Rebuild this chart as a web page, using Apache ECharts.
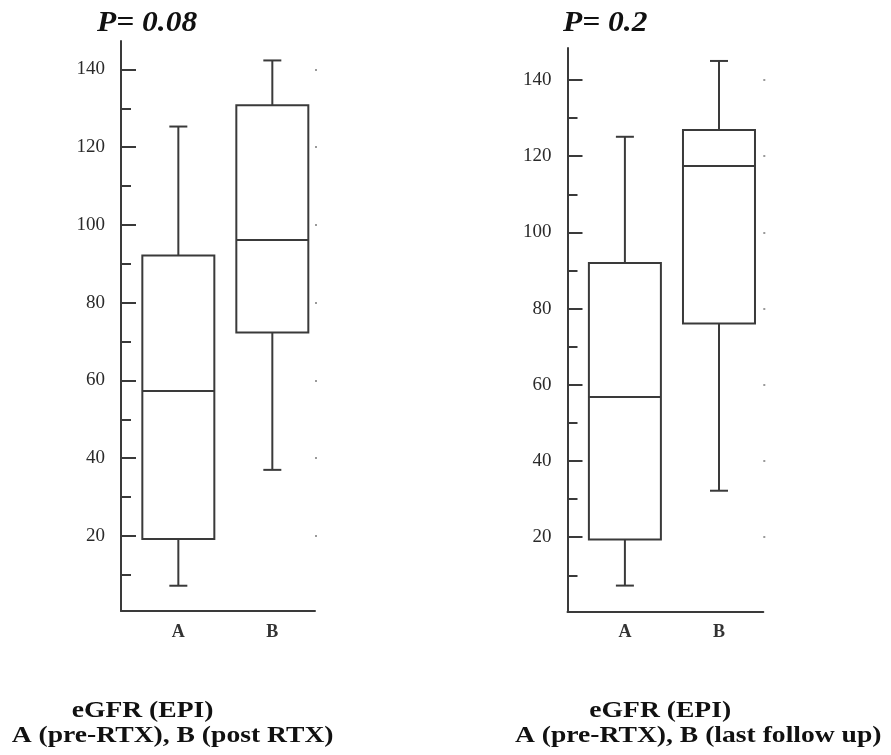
<!DOCTYPE html>
<html><head><meta charset="utf-8">
<script src="https://cdn.jsdelivr.net/npm/echarts@6/dist/echarts.min.js"></script>
<style>html,body{margin:0;padding:0;background:#fff}#c{width:891px;height:755px}</style>
</head><body><div id="c"></div>
<script>
// ---- data ----
const categories = ['A', 'B'];
// each box: [min, Q1, median, Q3, max]
const postRtxA = [7.2, 19.2, 57.3, 92.1, 125.3];
const postRtxB = [37.0, 72.3, 96.1, 130.8, 142.3];
const lastFollowA = [7.3, 19.4, 56.8, 92.0, 125.1];
const lastFollowB = [32.2, 76.1, 117.4, 126.9, 145.0];
const majorTicks = [20, 40, 60, 80, 100, 120, 140];
const minorTicks = [10, 30, 50, 70, 90, 110, 130];
const pTitles = ['P= 0.08', 'P= 0.2'];
const captionLine1 = ['eGFR (EPI)', 'eGFR (EPI)'];
const captionLine2 = ['A (pre-RTX), B (post RTX)', 'A (pre-RTX), B (last follow up)'];

// ---- styling ----
const INK = '#3a3a3a';
const SERIF = '"Liberation Serif", "Times New Roman", serif';

function renderBox(params, api) {
  const x = api.value(0);
  const p = [1, 2, 3, 4, 5].map(i => api.coord([x, api.value(i)]));
  const cx = p[0][0];
  const hw = 36, cw = 9;
  const yMin = p[0][1], yQ1 = p[1][1], yMed = p[2][1], yQ3 = p[3][1], yMax = p[4][1];
  const st = { stroke: INK, lineWidth: 2, fill: null };
  return {
    type: 'group',
    children: [
      { type: 'rect', shape: { x: cx - hw, y: yQ3, width: 2 * hw, height: yQ1 - yQ3 }, style: { stroke: INK, lineWidth: 2, fill: '#fff' } },
      { type: 'line', shape: { x1: cx - hw, y1: yMed, x2: cx + hw, y2: yMed }, style: st },
      { type: 'line', shape: { x1: cx, y1: yQ3, x2: cx, y2: yMax }, style: st },
      { type: 'line', shape: { x1: cx - cw, y1: yMax, x2: cx + cw, y2: yMax }, style: st },
      { type: 'line', shape: { x1: cx, y1: yQ1, x2: cx, y2: yMin }, style: st },
      { type: 'line', shape: { x1: cx - cw, y1: yMin, x2: cx + cw, y2: yMin }, style: st }
    ]
  };
}

const panels = [
  { grid: { left: 121, top: 41, width: 194, height: 570 }, xMin: 0.39, xMax: 2.454, yMin: 0.7, yMax: 147.3, boxes: [postRtxA, postRtxB] },
  { grid: { left: 567.5, top: 48, width: 195.8, height: 563.5 }, xMin: 0.39, xMax: 2.471, yMin: 0.5, yMax: 148.4, boxes: [lastFollowA, lastFollowB] }
];

const option = { animation: false, backgroundColor: '#fff', grid: [], xAxis: [], yAxis: [], series: [], graphic: [] };

panels.forEach((pn, gi) => {
  option.grid.push(Object.assign({ containLabel: false }, pn.grid));
  option.xAxis.push({
    gridIndex: gi, type: 'value', min: pn.xMin, max: pn.xMax,
    axisLine: { show: true, onZero: false, lineStyle: { color: INK, width: 2 } },
    axisTick: { show: false }, splitLine: { show: false },
    axisLabel: {
      customValues: [1, 2],
      formatter: v => categories[Math.round(v) - 1] || '',
      margin: 12, fontFamily: SERIF, fontSize: 18, fontWeight: 'bold', color: '#333'
    }
  });
  const yi = option.yAxis.length;
  option.yAxis.push({
    gridIndex: gi, type: 'value', min: pn.yMin, max: pn.yMax, position: 'left',
    axisLine: { show: true, onZero: false, lineStyle: { color: INK, width: 2 } },
    axisTick: { show: true, inside: true, length: 15, customValues: majorTicks, lineStyle: { color: INK, width: 2 } },
    axisLabel: { customValues: majorTicks, margin: 16, fontFamily: SERIF, fontSize: 19, color: '#2a2a2a' },
    splitLine: { show: false }
  });
  option.yAxis.push({
    gridIndex: gi, type: 'value', min: pn.yMin, max: pn.yMax, position: 'left', offset: 0,
    axisLine: { show: false, onZero: false },
    axisTick: { show: true, inside: true, length: 10, customValues: minorTicks, lineStyle: { color: INK, width: 2 } },
    axisLabel: { show: false }, splitLine: { show: false }
  });
  option.yAxis.push({
    gridIndex: gi, type: 'value', min: pn.yMin, max: pn.yMax, position: 'right', offset: 0,
    axisLine: { show: false, onZero: false },
    axisTick: { show: true, inside: false, length: 2, customValues: majorTicks, lineStyle: { color: '#9a9a9a', width: 2 } },
    axisLabel: { show: false }, splitLine: { show: false }
  });
  option.series.push({
    type: 'custom', xAxisIndex: gi, yAxisIndex: yi,
    renderItem: renderBox,
    encode: { x: 0, y: [1, 2, 3, 4, 5] },
    data: pn.boxes.map((b, i) => [i + 1].concat(b)),
    clip: false
  });
});

// P-value titles
const titlePos = [[97, 23], [563, 23]];
pTitles.forEach((t, i) => {
  option.graphic.push({
    type: 'text', x: titlePos[i][0], y: titlePos[i][1], scaleX: 1.05,
    style: { text: t, font: 'italic bold 30px ' + SERIF, fill: '#111', textAlign: 'left', textVerticalAlign: 'middle' }
  });
});
// captions
const cap1Pos = [[71.7, 711], [589.3, 711]];
const cap2Pos = [[11.7, 736], [515, 736]];
captionLine1.forEach((t, i) => {
  option.graphic.push({
    type: 'text', x: cap1Pos[i][0], y: cap1Pos[i][1], scaleX: 1.2,
    style: { text: t, font: 'bold 23px ' + SERIF, fill: '#111', textAlign: 'left', textVerticalAlign: 'middle' }
  });
});
captionLine2.forEach((t, i) => {
  option.graphic.push({
    type: 'text', x: cap2Pos[i][0], y: cap2Pos[i][1], scaleX: 1.2,
    style: { text: t, font: 'bold 23px ' + SERIF, fill: '#111', textAlign: 'left', textVerticalAlign: 'middle' }
  });
});

const chart = echarts.init(document.getElementById('c'), null, { renderer: 'canvas' });
chart.setOption(option);
</script>
</body></html>
